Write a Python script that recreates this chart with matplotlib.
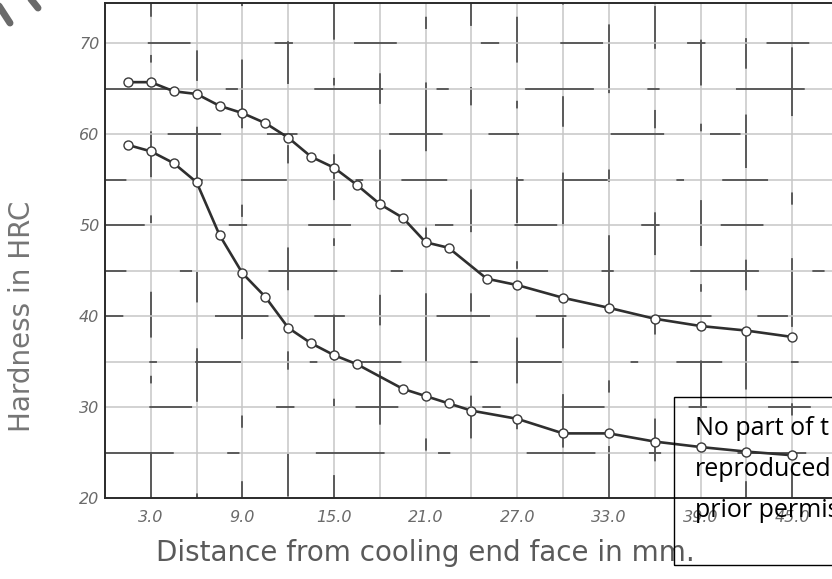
import matplotlib.pyplot as plt
from matplotlib.lines import Line2D
from matplotlib.patches import Rectangle

# Jominy curves (distance in mm, hardness in HRC)
upper_mm = [1.5, 3, 4.5, 6, 7.5, 9, 10.5, 12, 13.5, 15, 16.5, 18, 19.5,
            21, 22.5, 25, 27, 30, 33, 36, 39, 42, 45]
upper_hrc = [65.7, 65.7, 64.7, 64.4, 63.1, 62.3, 61.2, 59.6, 57.5, 56.3, 54.4,
             52.3, 50.8, 48.1, 47.5, 44.1, 43.4, 42.0, 40.9, 39.7, 38.9, 38.4, 37.7]
lower_mm = [1.5, 3, 4.5, 6, 7.5, 9, 10.5, 12, 13.5, 15, 16.5, 19.5,
            21, 22.5, 24, 27, 30, 33, 36, 39, 42, 45]
lower_hrc = [58.8, 58.1, 56.8, 54.7, 48.9, 44.7, 42.1, 38.7, 37.0, 35.7, 34.7,
             32.0, 31.2, 30.4, 29.6, 28.7, 27.1, 27.1, 26.2, 25.6, 25.1, 24.7]

x_ticks = [3, 9, 15, 21, 27, 33, 39, 45]
x_ticklabels = ["3.0", "9.0", "15.0", "21.0", "27.0", "33.0", "39.0", "45.0"]
y_ticks = [20, 30, 40, 50, 60, 70]
y_ticklabels = ["20", "30", "40", "50", "60", "70"]
x_grid = list(range(0, 49, 3))
y_grid = list(range(20, 76, 5))

notice_lines = ["No part of t", "reproduced", "prior permis"]

fig = plt.figure(figsize=(8.32, 5.79), dpi=100)
fig.patch.set_facecolor("white")
ax = fig.add_axes([105 / 832, 81 / 579, 727 / 832, 495 / 579])
ax.set_xlim(0, 727 / 15.27)
ax.set_ylim(20, 74.4)

# scanned-looking grid: faint line with sparse darker segments on top
dash_sets = [(30, 45, 5, 25), (20, 60, 35, 30), (45, 35, 8, 50), (12, 40, 28, 55)]
for i, gx in enumerate(x_grid[1:]):
    ax.axvline(gx, color="#c6c6c6", lw=1.1, zorder=1)
    ax.axvline(gx, color="#3a3a3a", lw=1.1, zorder=1,
               linestyle=(i * 17 % 53, dash_sets[i % 4]))
for i, gy in enumerate(y_grid[1:]):
    ax.axhline(gy, color="#c6c6c6", lw=1.1, zorder=1)
    ax.axhline(gy, color="#3a3a3a", lw=1.1, zorder=1,
               linestyle=(i * 23 % 61, dash_sets[(i + 2) % 4]))

for s in ["left", "bottom", "top"]:
    ax.spines[s].set_color("#2a2a2a")
    ax.spines[s].set_linewidth(1.4)
ax.spines["right"].set_visible(False)

# curves
for xs, ys in [(upper_mm, upper_hrc), (lower_mm, lower_hrc)]:
    ax.plot(xs, ys, color="#2f2f2f", lw=1.9, zorder=3,
            marker="o", ms=6.5, mfc="white", mec="#3a3a3a", mew=1.0)

ax.set_xticks(x_ticks)
ax.set_xticklabels(x_ticklabels, style="italic", color="#6a6a6a", fontsize=11.5)
ax.set_yticks(y_ticks)
ax.set_yticklabels(y_ticklabels, style="italic", color="#6a6a6a", fontsize=11.5)
ax.tick_params(axis="x", length=0, pad=9)
ax.tick_params(axis="y", length=0, pad=4)

fig.text(22 / 832, 1 - 316 / 579, "Hardness in HRC", rotation=90,
         ha="center", va="center", fontsize=20, color="#757575")
fig.text(425 / 832, 1 - 553 / 579, "Distance from cooling end face in mm.",
         ha="center", va="center", fontsize=20, color="#5a5a5a")

# copyright notice box, clipped at the right edge
fig.patches.append(Rectangle((674 / 832, 1 - 565 / 579), 0.25, 168 / 579,
                             transform=fig.transFigure, fill=False,
                             edgecolor="black", lw=1.0, zorder=5))
for k, line in enumerate(notice_lines):
    fig.text(695 / 832, 1 - (435 + 41 * k) / 579, line, ha="left",
             va="baseline", fontsize=18, family="Open Sans", color="black")

# stray watermark strokes in the top-left corner
fig.lines.append(Line2D([-1 / 832, 10 / 832], [1 - 6 / 579, 1 - 23 / 579],
                        transform=fig.transFigure, color="#6a6a6a", lw=5,
                        solid_capstyle="round"))
fig.lines.append(Line2D([30 / 832, 38 / 832], [1 + 2 / 579, 1 - 8 / 579],
                        transform=fig.transFigure, color="#6a6a6a", lw=5,
                        solid_capstyle="round"))

fig.savefig("out.png", dpi=100)
